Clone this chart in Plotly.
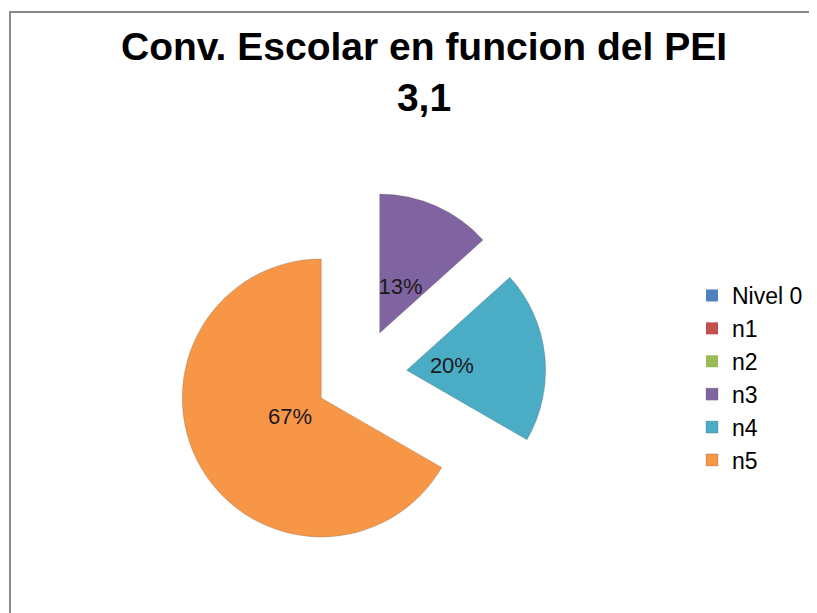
import plotly.graph_objects as go

categories = ["Nivel 0", "n1", "n2", "n3", "n4", "n5"]
counts = [0, 0, 0, 2, 3, 10]
colors = ["#4F81BD", "#C0504D", "#9BBB59", "#8064A2", "#4BACC6", "#F79646"]
title_lines = ["Conv. Escolar en funcion del PEI", "3,1"]

W, H = 817, 613
OFF = 8  # page body margin in the browser


def px(x):
    return (x - OFF) / W


def py(y):
    return 1 - (y - OFF) / H


# pie geometry (screen pixels)
cx, cy = 361, 375
r_main = 139.0
pull_main = 0.33
box_main = 2 * r_main * (1 + pull_main)
offset = pull_main * r_main

# label layer: transparent smaller pie with same slice apexes, to pull labels inward
r_lab = 0.52 * r_main
pull_lab = offset / r_lab
box_lab = 2 * r_lab * (1 + pull_lab)


def dom(box):
    h = box / 2
    return dict(x=[px(cx - h), px(cx + h)], y=[py(cy + h), py(cy - h)])


label_tmpl = ["" if v == 0 else "%{percent:.0%}" for v in counts]

fig = go.Figure()
fig.add_trace(go.Pie(
    labels=categories,
    values=counts,
    sort=False,
    direction="clockwise",
    rotation=0,
    pull=[pull_main] * len(counts),
    marker=dict(colors=colors,
                line=dict(color="rgba(90,90,90,0.45)", width=[0 if v == 0 else 0.6 for v in counts])),
    textinfo="none",
    domain=dom(box_main),
    showlegend=True,
    hoverinfo="label+percent",
))
fig.add_trace(go.Pie(
    labels=categories,
    values=counts,
    sort=False,
    direction="clockwise",
    rotation=0,
    pull=[pull_lab] * len(counts),
    marker=dict(colors=["rgba(0,0,0,0)"] * len(counts), line=dict(width=0)),
    texttemplate=label_tmpl,
    textposition="inside",
    insidetextorientation="horizontal",
    textfont=dict(family="Liberation Sans, Arial", size=22, color="#1a1a1a"),
    domain=dom(box_lab),
    showlegend=False,
    hoverinfo="skip",
))

fig.update_layout(
    width=W, height=H,
    margin=dict(l=0, r=0, t=0, b=0),
    paper_bgcolor="white",
    uniformtext=dict(minsize=22, mode="show"),
    annotations=[dict(
        text="<b>" + "<br>".join(title_lines) + "</b>",
        xref="paper", yref="paper", x=px(424), y=py(23), xanchor="center", yanchor="top",
        showarrow=False, align="center",
        font=dict(family="Liberation Sans, Arial", size=39, color="black"),
    )],
    legend=dict(
        x=px(692), xanchor="left", y=py(274), yanchor="top",
        font=dict(family="Liberation Sans, Arial", size=23, color="black"),
        itemwidth=30, traceorder="normal",
    ),
    shapes=[
        dict(type="line", xref="paper", yref="paper", x0=px(9), x1=1.02, y0=py(12), y1=py(12),
             line=dict(color="#8a8a8a", width=2)),
        dict(type="line", xref="paper", yref="paper", x0=px(10), x1=px(10), y0=py(12), y1=-0.02,
             line=dict(color="#8a8a8a", width=2)),
    ],
)

fig.write_html("out.html")
